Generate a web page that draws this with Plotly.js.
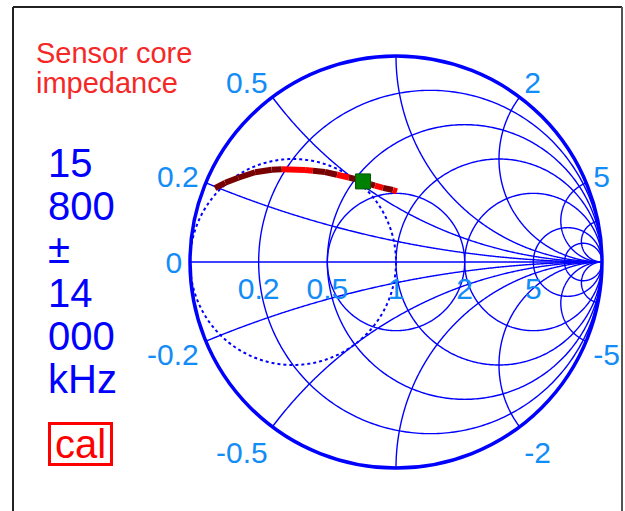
<!DOCTYPE html>
<html>
<head>
<meta charset="utf-8">
<script src="https://cdn.plot.ly/plotly-3.0.1.min.js"></script>
<style>html,body{margin:0;padding:0;background:#fff;}#chart{width:625px;height:511px;}</style>
</head>
<body>
<div id="chart"></div>
<script>
// ---- data ----
const curveRe = [0.027, 0.047, 0.075, 0.113, 0.157, 0.187, 0.266, 0.296, 0.345, 0.403, 0.465, 0.499, 0.548, 0.601, 0.630, 0.688, 0.762, 0.796];
const curveIm = [0.196, 0.220, 0.249, 0.288, 0.323, 0.344, 0.392, 0.409, 0.437, 0.462, 0.489, 0.504, 0.522, 0.538, 0.549, 0.572, 0.607, 0.619];
// state of each segment (point i -> i+1): 'd' dark, 'r' bright
const segmentState = ['d','d','d','d','d','r','r','d','d','r','d','d','d','d','r','d','r'];
const markerRe = [0.548];
const markerIm = [0.522];
const realTicks = [0.2, 0.5, 1, 2, 5];
const imagTicks = [-5, -2, -0.5, -0.2, 0, 0.2, 0.5, 2, 5];
const gridRe = [0.2, 0.5, 1, 2, 5, 10];
const gridIm = [-10, -5, -2, -1, -0.5, -0.2, 0.2, 0.5, 1, 2, 5, 10];
const vswrRho = [1/3];
const matchG = [1];
const sideLines = ['15', '800', '±', '14', '000', 'kHz'];
const titleLines = ['Sensor core', 'impedance'];

const GRID = '#0000ff';
const traces = [];
const N = 400;
// constant resistance circles
gridRe.forEach(r => {
  const re = [r], im = [-1e7];
  for (let i = 1; i < N; i++) { const p = -Math.PI/2 + Math.PI*i/N; re.push(r); im.push((r+1)*Math.tan(p)); }
  re.push(r); im.push(1e7);
  traces.push({type:'scattersmith', real:re, imag:im, mode:'lines', line:{color:GRID, width:1.4}, hoverinfo:'skip'});
});
// constant reactance arcs
gridIm.forEach(x => {
  const ax = Math.abs(x), p0 = Math.atan(1/ax);
  const re = [], im = [];
  for (let i = 0; i < N; i++) { const p = p0 + (Math.PI/2 - p0)*i/N; re.push(Math.max(0, ax*Math.tan(p) - 1)); im.push(x); }
  re.push(1e7); im.push(x);
  traces.push({type:'scattersmith', real:re, imag:im, mode:'lines', line:{color:GRID, width:1.4}, hoverinfo:'skip'});
});
// constant |Gamma| circle
vswrRho.forEach(rho => {
  const re = [], im = [];
  for (let i = 0; i <= N; i++) { const t = 2*Math.PI*i/N; const d = 1 - 2*rho*Math.cos(t) + rho*rho; re.push((1-rho*rho)/d); im.push(2*rho*Math.sin(t)/d); }
  traces.push({type:'scattersmith', real:re, imag:im, mode:'lines', line:{color:GRID, width:1.4}, hoverinfo:'skip'});
});
// constant conductance circle (dotted)
matchG.forEach(g => {
  const re = [0], im = [0];
  for (let i = 1; i < N; i++) { const p = -Math.PI/2 + Math.PI*i/N; const b = Math.tan(p); const d = g*g + b*b; re.push(g/d); im.push(-b/d); }
  re.push(0); im.push(0);
  traces.push({type:'scattersmith', real:re, imag:im, mode:'lines', line:{color:GRID, width:2, dash:'dot'}, hoverinfo:'skip'});
});
// measured curve, segment by segment
const segColor = {d:'#780000', r:'#ff0000'};
segmentState.forEach((s, i) => {
  traces.push({type:'scattersmith', real:[curveRe[i], curveRe[i+1]], imag:[curveIm[i], curveIm[i+1]], mode:'lines', line:{color:segColor[s], width:6}, hoverinfo:'skip'});
});
traces.push({type:'scattersmith', real:markerRe, imag:markerIm, mode:'markers', marker:{symbol:'square', size:15, color:'#008000', line:{color:'#005a00', width:1}}, hoverinfo:'skip'});

const W = 625, H = 511;
const px = v => v / W, py = v => 1 - v / H;
const FONT = 'Liberation Sans, Arial, sans-serif';
const TICKC = '#128cf6';
const annotations = [];
titleLines.forEach((t, i) => annotations.push({xref:'paper', yref:'paper', x:px(34), y:py(53 + 30*i), xanchor:'left', yanchor:'middle', text:t, showarrow:false, font:{family:FONT, size:29, color:'#f52828'}}));
sideLines.forEach((t, i) => annotations.push({xref:'paper', yref:'paper', x:px(46), y:py(163 + 43.2*i), xanchor:'left', yanchor:'middle', text:t, showarrow:false, font:{family:FONT, size:40, color:'#0000ff'}}));
annotations.push({xref:'paper', yref:'paper', x:px(80.5), y:py(444), xanchor:'center', yanchor:'middle', text:'cal', showarrow:false, width:59, height:38, borderpad:0, borderwidth:3, bordercolor:'#ff0000', font:{family:FONT, size:40, color:'#ff0000'}});

const layout = {
  width: W, height: H,
  margin: {l:0, r:0, t:0, b:0},
  paper_bgcolor: '#ffffff',
  showlegend: false,
  font: {family: FONT},
  smith: {
    domain: {x:[px(190), px(602)], y:[py(468), py(56)]},
    bgcolor: 'rgba(0,0,0,0)',
    realaxis: {tickvals: realTicks, tickangle: 0, showgrid:false, showline:true, linecolor:GRID, linewidth:1.5, side:'bottom', ticks:'', tickfont:{family:FONT, size:30, color:TICKC}},
    imaginaryaxis: {tickvals: imagTicks, showgrid:false, showline:true, linecolor:GRID, linewidth:3.5, ticks:'', tickfont:{family:FONT, size:30, color:TICKC}}
  },
  annotations: annotations,
  shapes: [
    {type:'line', xref:'paper', yref:'paper', x0:px(13), x1:px(13), y0:0, y1:py(7), line:{color:'#222', width:2}},
    {type:'line', xref:'paper', yref:'paper', x0:px(13), x1:px(622), y0:py(7), y1:py(7), line:{color:'#222', width:2}},
    {type:'line', xref:'paper', yref:'paper', x0:px(622), x1:px(622), y0:0, y1:py(7), line:{color:'#555', width:2}}
  ]
};
Plotly.newPlot('chart', traces, layout, {staticPlot:true, displayModeBar:false}).then(gd => {
  // the reference shows no infinity label and uses a plain hyphen for negatives
  gd.querySelectorAll('.main-svg text').forEach(t => {
    const s = t.textContent;
    if (s.indexOf('\u221e') !== -1) { t.remove(); return; }
    if (s.indexOf('\u2212') !== -1) t.textContent = s.replace(/\u2212/g, '-');
  });
});
</script>
</body>
</html>
